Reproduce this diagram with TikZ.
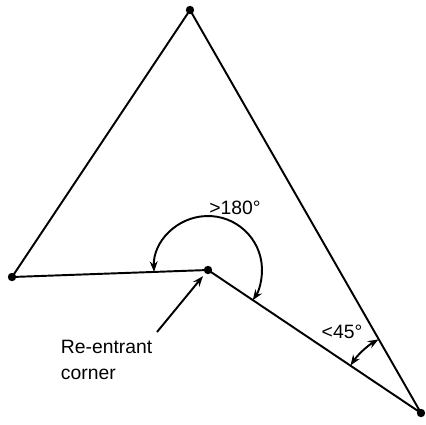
\documentclass[tikz,border=0pt]{standalone}
\usepackage{fontspec}
\setmainfont{Liberation Sans}
\usetikzlibrary{calc}
\usetikzlibrary{arrows.meta}
\newcommand{\vtx}[1]{%
  \fill (#1) circle (4.2);}

\begin{document}
\begin{tikzpicture}[x=0.02cm, y=-0.02cm, line width=1.1pt,
  every node/.style={font=\fontsize{11}{14}\selectfont, inner sep=0pt},
  dimarrow/.style={{Stealth[length=6pt,width=4.5pt]}-{Stealth[length=6pt,width=4.5pt]}},
  ptarrow/.style={-{Stealth[length=6pt,width=4.5pt]}}]
\useasboundingbox (0,0) rectangle (426,424);

% ---- The outline with one re-entrant corner ----
\coordinate (T) at (190,10);
\coordinate (L) at (12,277);
\coordinate (C) at (208,270);
\coordinate (R) at (421,413);
\draw[line join=round] (T) -- (L) -- (C) -- (R) -- cycle;
\vtx{T}
\vtx{L}
\vtx{C}
\vtx{R}

% ---- Angle of more than 180 degrees ----
\draw[dimarrow] ($(C)+(178:54)$) arc[start angle=178, end angle=394, radius=54];
\node (big) at (235,208) {>180°};

% ---- Sharp angle at the bottom tip ----
\draw[dimarrow] ($(R)+(214:85)$) arc[start angle=214, end angle=240, radius=85];
\node (sharp) at (342,332) {<45°};

% ---- Pointer to the corner ----
\node[anchor=base west] (lbl) at (60,353) {Re-entrant};
\node[anchor=base west] (lbl2) at (60,379) {corner};
\coordinate (tail) at (157,332);
\draw[ptarrow, shorten >=4.5pt] (tail) -- (C);

\end{tikzpicture}
\end{document}
